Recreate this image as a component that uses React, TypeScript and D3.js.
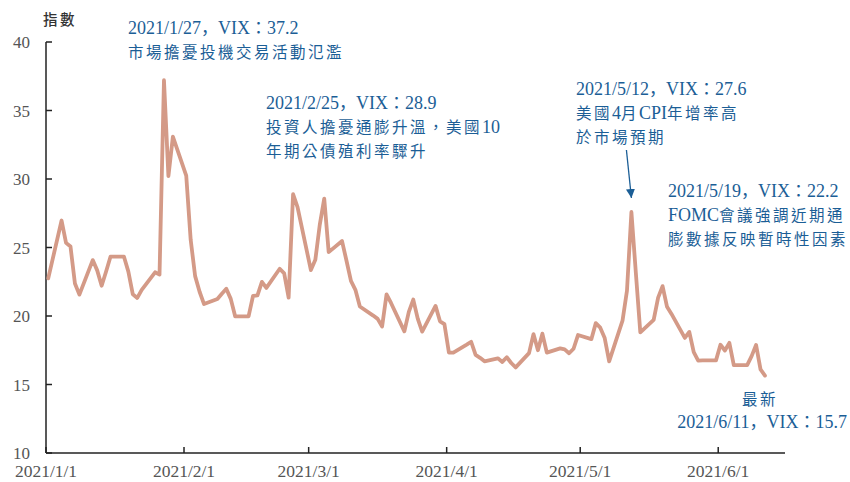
import React from "react";
import * as d3 from "d3";

const dates: string[] = [
  "2021-01-01","2021-01-04","2021-01-05","2021-01-06","2021-01-07","2021-01-08",
  "2021-01-11","2021-01-12","2021-01-13","2021-01-14","2021-01-15",
  "2021-01-18","2021-01-19","2021-01-20","2021-01-21","2021-01-22",
  "2021-01-25","2021-01-26","2021-01-27","2021-01-28","2021-01-29",
  "2021-02-01","2021-02-02","2021-02-03","2021-02-04","2021-02-05",
  "2021-02-08","2021-02-09","2021-02-10","2021-02-11","2021-02-12",
  "2021-02-15","2021-02-16","2021-02-17","2021-02-18","2021-02-19",
  "2021-02-22","2021-02-23","2021-02-24","2021-02-25","2021-02-26",
  "2021-03-01","2021-03-02","2021-03-03","2021-03-04","2021-03-05",
  "2021-03-08","2021-03-09","2021-03-10","2021-03-11","2021-03-12",
  "2021-03-15","2021-03-16","2021-03-17","2021-03-18","2021-03-19",
  "2021-03-22","2021-03-23","2021-03-24","2021-03-25","2021-03-26",
  "2021-03-29","2021-03-30","2021-03-31","2021-04-01","2021-04-02",
  "2021-04-05","2021-04-06","2021-04-07","2021-04-08","2021-04-09",
  "2021-04-12","2021-04-13","2021-04-14","2021-04-15","2021-04-16",
  "2021-04-19","2021-04-20","2021-04-21","2021-04-22","2021-04-23",
  "2021-04-26","2021-04-27","2021-04-28","2021-04-29","2021-04-30",
  "2021-05-03","2021-05-04","2021-05-05","2021-05-06","2021-05-07",
  "2021-05-10","2021-05-11","2021-05-12","2021-05-13","2021-05-14",
  "2021-05-17","2021-05-18","2021-05-19","2021-05-20","2021-05-21",
  "2021-05-24","2021-05-25","2021-05-26","2021-05-27","2021-05-28",
  "2021-05-31","2021-06-01","2021-06-02","2021-06-03","2021-06-04",
  "2021-06-07","2021-06-08","2021-06-09","2021-06-10","2021-06-11",
];

const vix: number[] = [
  22.75, 26.97, 25.34, 25.07, 22.37, 21.56,
  24.08, 23.33, 22.21, 23.25, 24.34,
  24.34, 23.24, 21.58, 21.32, 21.91,
  23.19, 23.02, 37.21, 30.21, 33.09,
  30.24, 25.56, 22.91, 21.77, 20.87,
  21.24, 21.63, 21.99, 21.25, 19.97,
  19.97, 21.46, 21.5, 22.49, 22.05,
  23.45, 23.11, 21.34, 28.89, 27.95,
  23.35, 24.1, 26.67, 28.57, 24.66,
  25.47, 24.03, 22.56, 21.91, 20.69,
  20.03, 19.79, 19.23, 21.58, 20.95,
  18.88, 20.3, 21.2, 19.81, 18.86,
  20.74, 19.61, 19.4, 17.33, 17.33,
  17.91, 18.12, 17.16, 16.95, 16.69,
  16.91, 16.65, 16.99, 16.57, 16.25,
  17.29, 18.68, 17.5, 18.71, 17.33,
  17.64, 17.56, 17.28, 17.61, 18.61,
  18.31, 19.48, 19.15, 18.39, 16.69,
  19.66, 21.84, 27.59, 23.13, 18.81,
  19.72, 21.34, 22.18, 20.67, 20.15,
  18.4, 18.84, 17.36, 16.74, 16.76,
  16.76, 17.9, 17.48, 18.04, 16.42,
  16.42, 17.07, 17.89, 16.1, 15.65,
];

const yTicks: number[] = [10, 15, 20, 25, 30, 35, 40];
const xTickDates: string[] = ["2021-01-01", "2021-02-01", "2021-03-01", "2021-04-01", "2021-05-01", "2021-06-01"];
const xTickLabels: string[] = ["2021/1/1", "2021/2/1", "2021/3/1", "2021/4/1", "2021/5/1", "2021/6/1"];

const yAxisTitle = "指數";

type Note = { x: number; y: number; anchor: "start" | "middle" | "end"; lines: string[] };
const notes: Note[] = [
  { x: 128, y: 34, anchor: "start", lines: ["2021/1/27，VIX：37.2", "市場擔憂投機交易活動氾濫"] },
  { x: 266, y: 109, anchor: "start", lines: ["2021/2/25，VIX：28.9", "投資人擔憂通膨升溫，美國10", "年期公債殖利率驟升"] },
  { x: 576, y: 95, anchor: "start", lines: ["2021/5/12，VIX：27.6", "美國4月CPI年增率高", "於市場預期"] },
  { x: 668, y: 197, anchor: "start", lines: ["2021/5/19，VIX：22.2", "FOMC會議強調近期通", "膨數據反映暫時性因素"] },
];
const latestNote = { label: "最新", text: "2021/6/11，VIX：15.7" };

const BLUE = "#1b5e96";
const LINE = "#d49a87";
const LATIN = "'Liberation Serif', 'Times New Roman', serif";
const CJK = "'Noto Sans CJK TC', sans-serif";
const PUNCT = "'Noto Sans CJK JP', sans-serif";

function RichText({ text, x, y, anchor, fill }: { text: string; x: number; y: number; anchor: string; fill: string }) {
  const segs: { s: string; kind: string }[] = [];
  const re = /([\uff0c\uff1a]+)|([\u3000-\u9fff\uff00-\uffef]+)|([^\u3000-\u9fff\uff00-\uffef]+)/g;
  let m: RegExpExecArray | null;
  while ((m = re.exec(text))) {
    segs.push({ s: m[0], kind: m[1] ? "p" : m[2] ? "c" : "l" });
  }
  return (
    <text x={x} y={y} textAnchor={anchor as any} fill={fill}>
      {segs.map((g, i) =>
        g.kind === "l" ? (
          <tspan key={i} fontFamily={LATIN} fontSize={18}>{g.s}</tspan>
        ) : g.kind === "p" ? (
          <tspan key={i} fontFamily={PUNCT} fontSize={17}>{g.s}</tspan>
        ) : (
          <tspan key={i} fontFamily={CJK} fontSize={15.5} letterSpacing={2.5}>{g.s}</tspan>
        )
      )}
    </text>
  );
}

export default function App() {
  const W = 850, H = 482;
  const parse = d3.timeParse("%Y-%m-%d");
  const x = d3.scaleTime().domain([parse("2021-01-01")!, parse("2021-06-16")!]).range([46, 785]);
  const y = d3.scaleLinear().domain([10, 40]).range([453, 42]);
  const pts = dates.map((d, i) => ({ t: d3.timeHour.offset(parse(d)!, 12), v: vix[i] }));
  const line = d3.line<{ t: Date; v: number }>().x((p) => x(p.t)).y((p) => y(p.v));

  const peak = pts[dates.indexOf("2021-05-12")];
  const ax = x(peak.t);
  const ay = y(peak.v) - 14;

  return (
    <svg width={W} height={H} style={{ position: "absolute", left: 0, top: 0, background: "#fff" }}>
      <defs>
        <marker id="arr" viewBox="0 0 10 10" refX="10" refY="5" markerWidth="9" markerHeight="9" markerUnits="userSpaceOnUse" orient="auto">
          <path d="M0,0 L10,5 L0,10 z" fill={BLUE} />
        </marker>
      </defs>
      {/* y axis */}
      <line x1={46} x2={46} y1={y(40)} y2={y(10)} stroke="#222" strokeWidth={1.5} />
      {yTicks.map((t) => (
        <g key={t}>
          <line x1={46} x2={52} y1={y(t)} y2={y(t)} stroke="#222" strokeWidth={1.5} />
          <text x={30} y={y(t) + 6} textAnchor="end" fontFamily={LATIN} fontSize={17} fill="#555">{t}</text>
        </g>
      ))}
      {/* x axis */}
      <line x1={46} x2={785} y1={453} y2={453} stroke="#222" strokeWidth={1.5} />
      {xTickDates.map((d, i) => (
        <g key={d}>
          <line x1={x(parse(d)!)} x2={x(parse(d)!)} y1={453} y2={447} stroke="#222" strokeWidth={1.5} />
          <text x={x(parse(d)!)} y={477} textAnchor="middle" fontFamily={LATIN} fontSize={17.5} fill="#555">{xTickLabels[i]}</text>
        </g>
      ))}
      <text x={43} y={25} fontFamily={CJK} fontSize={14.5} letterSpacing={2.5} fill="#333" fontWeight={500}>{yAxisTitle}</text>

      <path d={line(pts) || ""} fill="none" stroke={LINE} strokeWidth={3.8} strokeLinejoin="round" strokeLinecap="round" />

      {notes.map((n, i) => (
        <g key={i}>
          {n.lines.map((l, j) => (
            <RichText key={j} text={l} x={n.x} y={n.y + j * 24} anchor={n.anchor} fill={BLUE} />
          ))}
        </g>
      ))}
      <line x1={ax - 5} y1={150} x2={ax} y2={ay} stroke={BLUE} strokeWidth={1.3} markerEnd="url(#arr)" />
      <RichText text={latestNote.label} x={760} y={405} anchor="middle" fill={BLUE} />
      <RichText text={latestNote.text} x={847} y={428} anchor="end" fill={BLUE} />
    </svg>
  );
}
